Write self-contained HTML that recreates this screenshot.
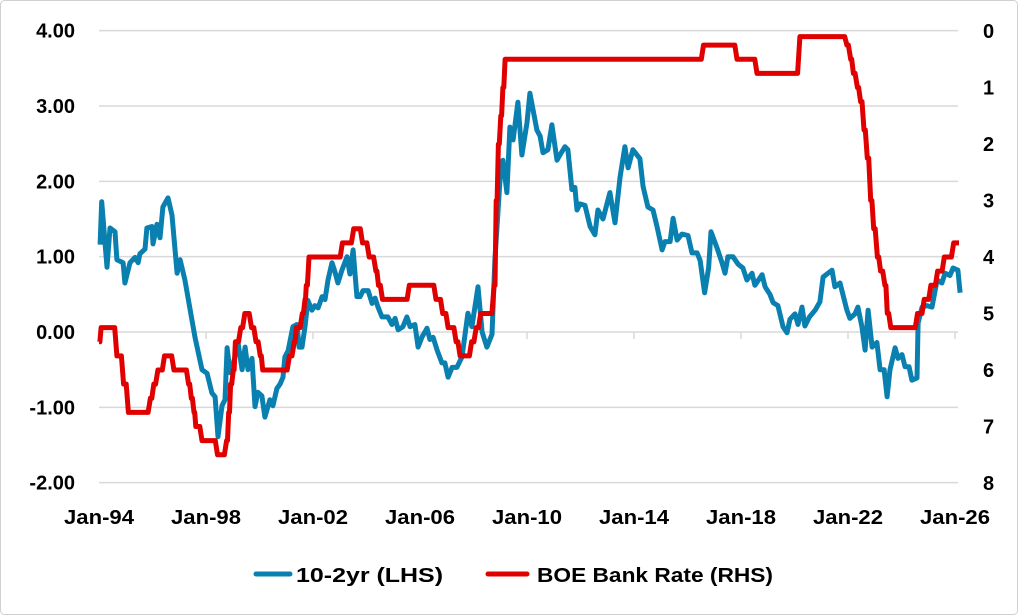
<!DOCTYPE html>
<html><head><meta charset="utf-8">
<style>
html,body{margin:0;padding:0;background:#fff;}
svg{display:block;font-family:"Liberation Sans",Arial,sans-serif;font-weight:bold;}
</style></head>
<body>
<svg id="chart" width="1018" height="615" viewBox="0 0 1018 615">
<rect x="0.5" y="0.5" width="1017" height="614" rx="4" fill="#fff" stroke="#d0d0d0"/>
<g id="grid"></g>
<g id="axes"></g>
<g id="series"></g>
<g>
<line x1="256" y1="574" x2="290" y2="574" stroke="#0a80b0" stroke-width="5" stroke-linecap="round"/>
<text x="296" y="582" font-size="20" textLength="147" lengthAdjust="spacingAndGlyphs">10-2yr (LHS)</text>
<line x1="488" y1="574" x2="527" y2="574" stroke="#e00000" stroke-width="5" stroke-linecap="round"/>
<text x="537" y="582" font-size="20" textLength="236" lengthAdjust="spacingAndGlyphs">BOE Bank Rate (RHS)</text>
</g>
</svg>
<script>
const leftTicks = [4, 3, 2, 1, 0, -1, -2];
const leftTickLabels = ["4.00","3.00","2.00","1.00","0.00","-1.00","-2.00"];
const rightTicks = [0,1,2,3,4,5,6,7,8];
const xTickYears = [1994,1998,2002,2006,2010,2014,2018,2022,2026];
const xTickLabels = ["Jan-94","Jan-98","Jan-02","Jan-06","Jan-10","Jan-14","Jan-18","Jan-22","Jan-26"];

const spreadDates = [1994.04,1994.1,1994.3,1994.41,1994.6,1994.67,1994.9,1994.97,1995.16,1995.35,1995.46,1995.53,1995.72,1995.79,1995.98,1996.02,1996.17,1996.28,1996.39,1996.58,1996.73,1996.92,1997.03,1997.21,1997.59,1997.85,1998.04,1998.22,1998.34,1998.45,1998.6,1998.71,1998.79,1998.9,1999.0,1999.2,1999.35,1999.46,1999.57,1999.72,1999.83,1999.94,2000.09,2000.2,2000.39,2000.5,2000.65,2000.77,2000.88,2000.95,2001.07,2001.25,2001.4,2001.48,2001.59,2001.7,2001.81,2001.96,2002.07,2002.19,2002.34,2002.45,2002.56,2002.71,2002.82,2002.93,2003.08,2003.27,2003.38,2003.5,2003.64,2003.76,2003.87,2004.06,2004.21,2004.32,2004.43,2004.58,2004.8,2004.95,2005.07,2005.18,2005.36,2005.51,2005.63,2005.81,2005.93,2006.07,2006.26,2006.37,2006.49,2006.64,2006.82,2006.93,2007.05,2007.2,2007.38,2007.57,2007.79,2007.94,2008.17,2008.32,2008.5,2008.69,2008.8,2008.99,2009.1,2009.25,2009.36,2009.48,2009.66,2009.81,2010.0,2010.11,2010.37,2010.49,2010.6,2010.78,2010.93,2011.12,2011.23,2011.42,2011.53,2011.68,2011.79,2011.87,2011.98,2012.17,2012.36,2012.54,2012.65,2012.84,2013.1,2013.29,2013.48,2013.66,2013.78,2013.96,2014.22,2014.34,2014.52,2014.71,2014.86,2015.05,2015.16,2015.35,2015.46,2015.61,2015.79,2016.02,2016.17,2016.36,2016.47,2016.64,2016.79,2016.88,2017.1,2017.29,2017.4,2017.51,2017.7,2017.89,2018.07,2018.22,2018.41,2018.52,2018.79,2018.9,2019.08,2019.2,2019.38,2019.57,2019.72,2019.83,2020.02,2020.13,2020.28,2020.39,2020.56,2020.77,2020.95,2021.07,2021.4,2021.51,2021.7,2021.96,2022.07,2022.26,2022.37,2022.52,2022.64,2022.75,2022.9,2023.08,2023.2,2023.35,2023.46,2023.57,2023.76,2023.87,2024.02,2024.13,2024.28,2024.39,2024.58,2024.62,2024.77,2024.95,2025.14,2025.33,2025.51,2025.63,2025.81,2025.93,2026.11,2026.19];
const spreadValues = [1.16,1.73,0.86,1.38,1.33,0.96,0.92,0.65,0.92,0.99,0.92,1.04,1.1,1.38,1.4,1.17,1.43,1.25,1.66,1.78,1.55,0.78,0.96,0.69,-0.07,-0.5,-0.55,-0.81,-0.86,-1.39,-0.98,-0.9,-0.21,-0.54,-0.45,-0.15,-0.5,-0.2,-0.5,-0.35,-0.99,-0.8,-0.85,-1.13,-0.9,-0.98,-0.75,-0.69,-0.6,-0.33,-0.25,0.07,0.1,-0.2,-0.2,0.07,0.42,0.29,0.35,0.32,0.47,0.43,0.69,0.92,0.8,0.65,0.82,1.0,0.77,1.09,0.47,0.47,0.55,0.55,0.38,0.45,0.33,0.2,0.2,0.1,0.18,0.03,0.07,0.2,0.07,0.1,-0.2,-0.07,0.05,-0.1,-0.07,-0.24,-0.41,-0.41,-0.6,-0.47,-0.47,-0.33,0.25,0.07,0.6,0,-0.2,-0.03,0.96,2.02,2.28,1.85,2.72,2.55,3.05,2.35,2.78,3.17,2.68,2.6,2.38,2.42,2.75,2.28,2.35,2.46,2.42,1.89,1.92,1.62,1.7,1.68,1.4,1.29,1.62,1.5,1.85,1.45,2.06,2.46,2.18,2.42,2.3,1.93,1.66,1.62,1.4,1.09,1.2,1.2,1.51,1.22,1.3,1.28,1.05,1.05,0.95,0.52,0.85,1.33,1.12,0.92,0.78,1.0,1.0,0.9,0.85,0.69,0.78,0.62,0.76,0.6,0.5,0.39,0.35,0.07,-0.01,0.17,0.24,0.1,0.33,0.08,0.2,0.29,0.4,0.73,0.82,0.6,0.65,0.29,0.18,0.24,0.33,0.07,-0.24,0.29,-0.2,-0.14,-0.5,-0.5,-0.86,-0.5,-0.21,-0.35,-0.3,-0.46,-0.46,-0.64,-0.61,0.12,0.33,0.35,0.33,0.69,0.65,0.78,0.75,0.85,0.82,0.52];

const rateDates = [1994.0,1994.08,1994.67,1994.92,1995.1,1995.92,1996.05,1996.2,1996.45,1996.8,1997.35,1997.45,1997.55,1997.62,1997.85,1998.43,1998.77,1998.85,1998.92,1999.02,1999.1,1999.3,1999.45,1999.7,1999.87,2000.03,2000.12,2001.12,2001.3,2001.38,2001.6,2001.7,2001.75,2001.85,2003.1,2003.52,2003.85,2004.1,2004.35,2004.45,2004.6,2005.6,2006.6,2006.85,2007.05,2007.35,2007.5,2007.93,2008.1,2008.27,2008.77,2008.85,2008.93,2009.02,2009.1,2009.18,2016.6,2017.85,2018.6,2020.2,2021.96,2022.1,2022.2,2022.35,2022.47,2022.6,2022.72,2022.85,2022.96,2023.1,2023.22,2023.38,2023.47,2023.6,2024.6,2024.85,2025.1,2025.35,2025.6,2025.95];
const rateValues = [5.5,5.25,5.75,6.25,6.75,6.5,6.25,6.0,5.75,6.0,6.25,6.5,6.75,7.0,7.25,7.5,7.25,6.75,6.25,6.0,5.5,5.25,5.0,5.25,5.5,5.75,6.0,5.75,5.5,5.25,5.0,4.75,4.5,4.0,3.75,3.5,3.75,4.0,4.25,4.5,4.75,4.5,4.75,5.0,5.25,5.5,5.75,5.5,5.25,5.0,4.5,3.0,2.0,1.5,1.0,0.5,0.25,0.5,0.75,0.1,0.25,0.5,0.75,1.0,1.25,1.75,2.25,3.0,3.5,4.0,4.25,4.5,5.0,5.25,5.0,4.75,4.5,4.25,4.0,3.75];
const rateEnd = 2026.15;

const NS = "http://www.w3.org/2000/svg";
const X0 = 99, PXY = 26.75;
function xs(yr){ return X0 + (yr - 1994) * PXY; }
function yl(v){ return 332 - v * 75.33; }
function yr(v){ return 31 + v * 56.5; }
function mk(tag, attrs, parent){ const e = document.createElementNS(NS, tag); for (const k in attrs) e.setAttribute(k, attrs[k]); parent.appendChild(e); return e; }

const grid = document.getElementById('grid'), axes = document.getElementById('axes'), series = document.getElementById('series');
leftTicks.forEach((v, i) => {
  if (v !== 0) {
    const g = mk('line', {x1: X0, x2: 958, y1: yl(v), y2: yl(v), stroke: '#d9d9d9', 'stroke-width': 1.5}, grid);
    
    
  }
  const t = mk('text', {x: 75, y: yl(v) + 7, 'text-anchor': 'end', 'font-size': 20}, axes);
  t.textContent = leftTickLabels[i];
  
  
});
rightTicks.forEach(v => {
  const t = mk('text', {x: 983, y: yr(v) + 7, 'text-anchor': 'start', 'font-size': 20}, axes);
  t.textContent = String(v);
  
  
});
const ax = mk('line', {x1: X0, x2: 958, y1: yl(0), y2: yl(0), stroke: '#d9d9d9', 'stroke-width': 1.5}, axes);


xTickYears.forEach((y, i) => {
  const tk = mk('line', {x1: xs(y), x2: xs(y), y1: yl(0), y2: yl(0) + 7, stroke: '#d9d9d9', 'stroke-width': 1.5}, axes);
  
  
  const t = mk('text', {x: xs(y), y: 524, 'text-anchor': 'middle', 'font-size': 20, textLength: 70, lengthAdjust: 'spacingAndGlyphs'}, axes);
  t.textContent = xTickLabels[i];
  
  
});

let pts = spreadDates.map((d, i) => xs(d).toFixed(1) + ',' + yl(spreadValues[i]).toFixed(1));
const sp = mk('polyline', {points: pts.join(' '), fill: 'none', stroke: '#0a80b0', 'stroke-width': 5, 'stroke-linejoin': 'round'}, series);



let rp = [];
rateDates.forEach((d, i) => {
  if (i > 0) {
    const gap = d - rateDates[i-1];
    const tr = Math.min(1/12, gap * 0.6);
    rp.push(xs(d - tr).toFixed(1) + ',' + yr(rateValues[i-1]).toFixed(1));
  }
  rp.push(xs(d).toFixed(1) + ',' + yr(rateValues[i]).toFixed(1));
});
rp.push(xs(rateEnd).toFixed(1) + ',' + yr(rateValues[rateValues.length-1]).toFixed(1));
const rl = mk('polyline', {points: rp.join(' '), fill: 'none', stroke: '#e00000', 'stroke-width': 5, 'stroke-linejoin': 'round'}, series);


</script>
</body></html>
